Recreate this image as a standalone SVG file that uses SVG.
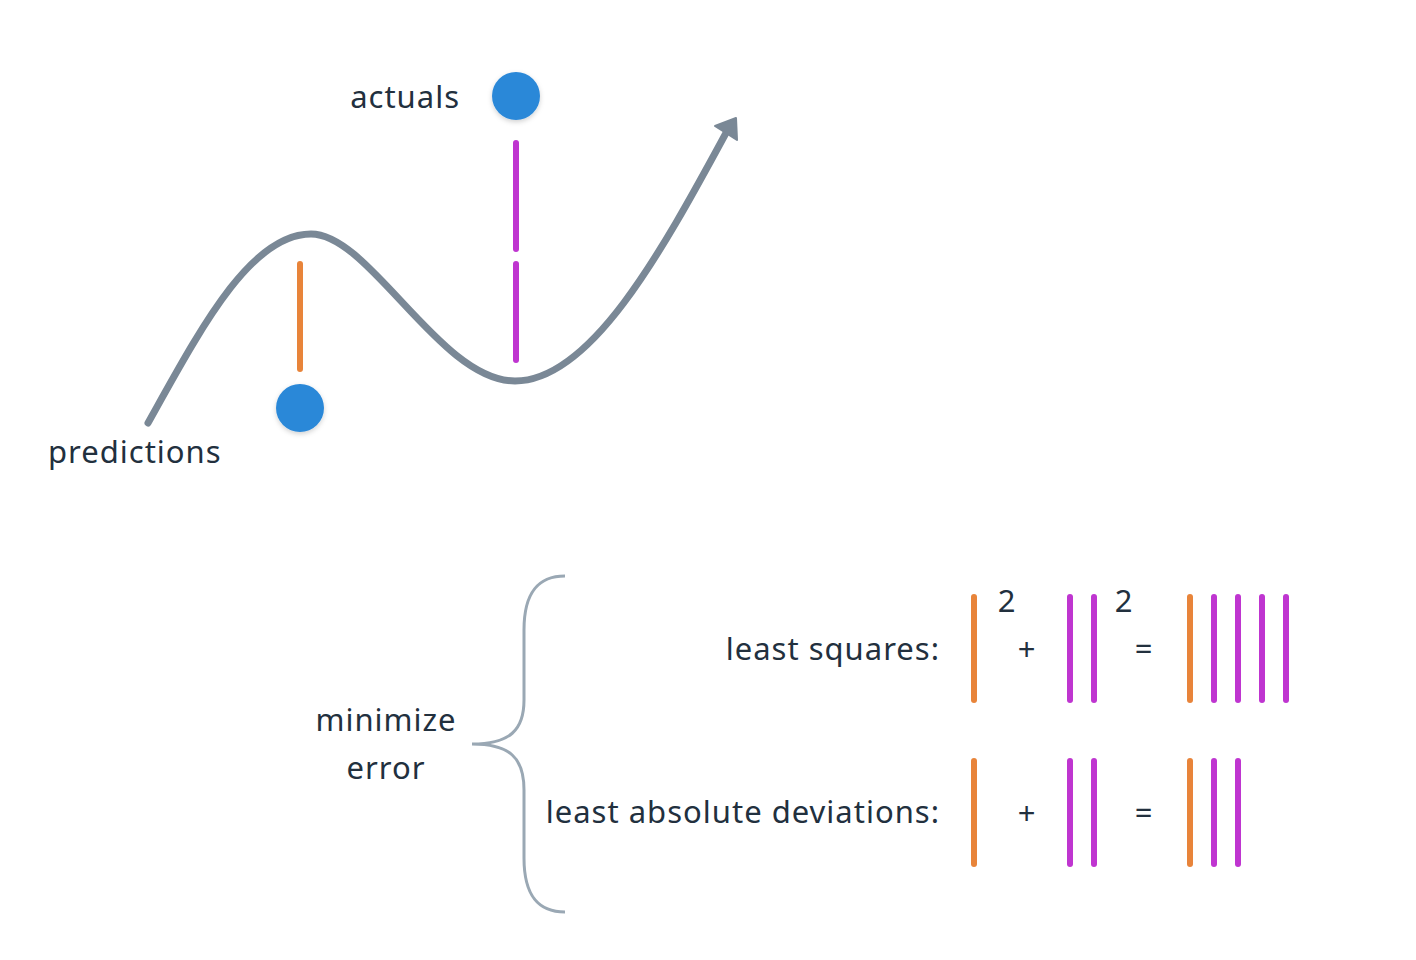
<svg xmlns="http://www.w3.org/2000/svg" width="1416" height="960" viewBox="0 0 1416 960">
<defs>
<style>
.t{font-family:"Noto Sans","DejaVu Sans",sans-serif;font-size:31px;fill:#22303e;letter-spacing:1px}
.o{stroke:#e8843a;stroke-width:6;stroke-linecap:round;fill:none}
.p{stroke:#bf35d0;stroke-width:6;stroke-linecap:round;fill:none}
.dot{fill:#2b88d8;filter:url(#sh)}
</style>
<filter id="sh" x="-50%" y="-50%" width="200%" height="200%">
<feDropShadow dx="0" dy="2" stdDeviation="2.5" flood-color="#000" flood-opacity="0.18"/>
</filter>
</defs>
<rect width="1416" height="960" fill="#ffffff"/>
<g id="connectors">
<path id="curve" d="M148,423 C200,330 250,234 311,234 C370,234 440,381 515,381 C590,381 660,255 726,133" fill="none" stroke="#7a8896" stroke-width="7" stroke-linecap="round"/>
<path d="M715,126 L736,118 L737,140 Z" fill="#7a8896" stroke="#7a8896" stroke-width="2" stroke-linejoin="round"/>
<line class="o" x1="300" y1="264" x2="300" y2="369"/>
<line class="p" x1="516" y1="143" x2="516" y2="249"/>
<line class="p" x1="516" y1="264" x2="516" y2="360"/>
<path id="brace" d="M565,576 C540,576 524,590 524,630 L524,700 C524,730 510,744 472,744 C510,744 524,758 524,790 L524,858 C524,898 540,912 565,912" fill="none" stroke="#9aa8b4" stroke-width="3"/>
</g>
<g id="actual-dot"><circle class="dot" cx="516" cy="96" r="24"/></g>
<g id="pred-dot"><circle class="dot" cx="300" cy="408" r="24"/></g>
<g id="labels">
<text class="t" x="460" y="108" text-anchor="end">actuals</text>
<text class="t" x="48" y="463">predictions</text>
<text class="t" x="386" y="731" text-anchor="middle">minimize</text>
<text class="t" x="386" y="779" text-anchor="middle">error</text>
<text class="t" x="940" y="660" text-anchor="end">least squares:</text>
<text class="t" x="940" y="823" text-anchor="end">least absolute deviations:</text>
</g>
<g id="least-squares">
<line class="o" x1="974" y1="597" x2="974" y2="700"/>
<text class="t" x="1007" y="612" text-anchor="middle">2</text>
<text class="t" x="1027" y="660" text-anchor="middle">+</text>
<line class="p" x1="1070" y1="597" x2="1070" y2="700"/>
<line class="p" x1="1094" y1="597" x2="1094" y2="700"/>
<text class="t" x="1124" y="612" text-anchor="middle">2</text>
<text class="t" x="1144" y="660" text-anchor="middle">=</text>
<line class="o" x1="1190" y1="597" x2="1190" y2="700"/>
<line class="p" x1="1214" y1="597" x2="1214" y2="700"/>
<line class="p" x1="1238" y1="597" x2="1238" y2="700"/>
<line class="p" x1="1262" y1="597" x2="1262" y2="700"/>
<line class="p" x1="1286" y1="597" x2="1286" y2="700"/>
</g>
<g id="least-absolute">
<line class="o" x1="974" y1="761" x2="974" y2="864"/>
<text class="t" x="1027" y="824" text-anchor="middle">+</text>
<line class="p" x1="1070" y1="761" x2="1070" y2="864"/>
<line class="p" x1="1094" y1="761" x2="1094" y2="864"/>
<text class="t" x="1144" y="824" text-anchor="middle">=</text>
<line class="o" x1="1190" y1="761" x2="1190" y2="864"/>
<line class="p" x1="1214" y1="761" x2="1214" y2="864"/>
<line class="p" x1="1238" y1="761" x2="1238" y2="864"/>
</g>
</svg>
